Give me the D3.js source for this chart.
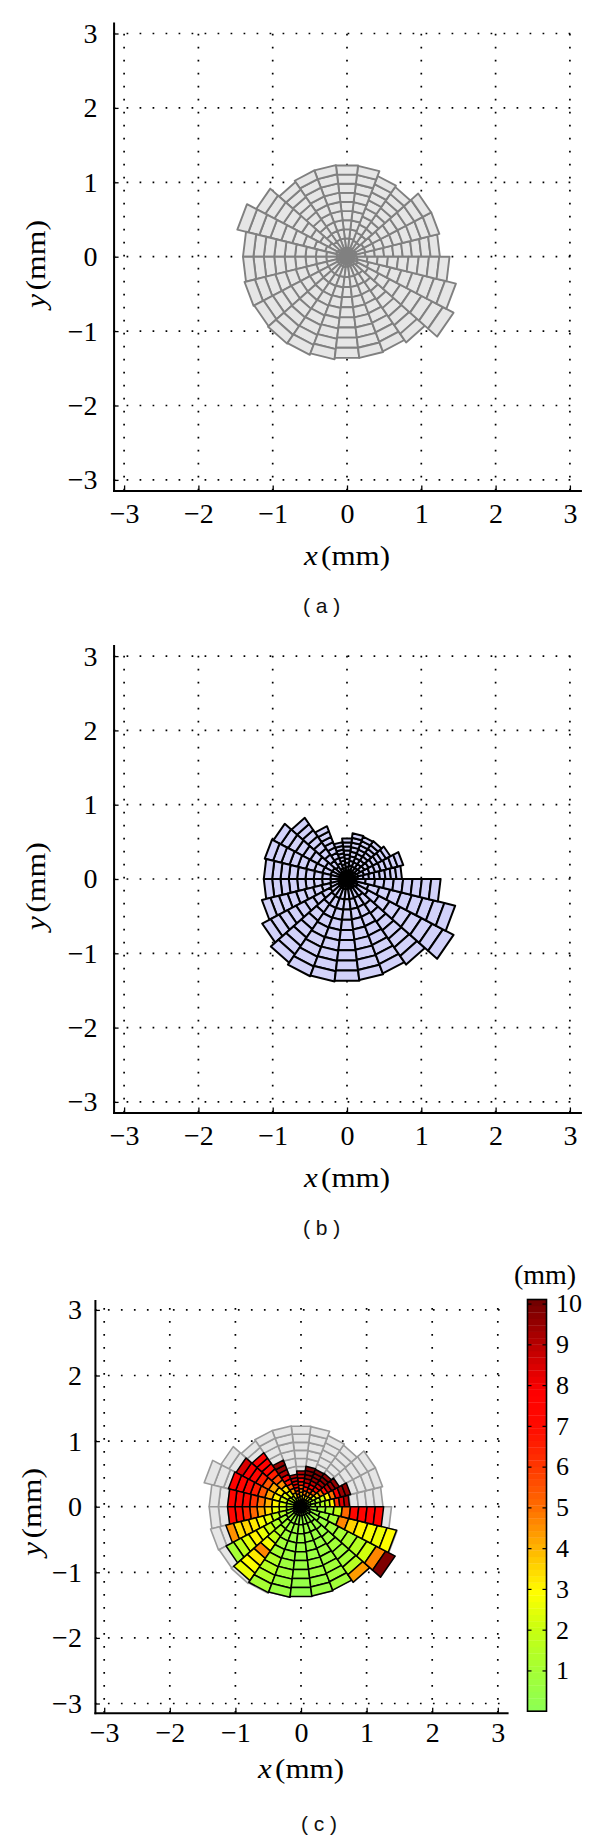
<!DOCTYPE html>
<html><head><meta charset="utf-8">
<script src="https://cdn.jsdelivr.net/npm/d3@7"></script>
<style>body{margin:0;background:#fff}</style>
</head><body>
<svg id="chart" width="600" height="1837" xmlns="http://www.w3.org/2000/svg"></svg>
<script>
// ---------------- DATA ----------------
const NSECT = 26;          // angular sectors (counter-clockwise from +x axis)
const NRING = 10;          // radial cells per sector
const axisTicks = [-3, -2, -1, 0, 1, 2, 3];
const cbTicks = [1, 2, 3, 4, 5, 6, 7, 8, 9, 10];
const cbMax = 10.1;
const panelCaptions = ["( a )", "( b )", "( c )"];

// outer radius (mm) of each sector, panel (a)
const radiusA = [1.25, 1.28, 1.28, 1.14, 1.16, 1.23, 1.235, 1.24, 1.24, 1.22, 1.38, 1.52, 1.40,
                 1.40, 1.42, 1.41, 1.42, 1.41, 1.39, 1.37, 1.37, 1.36, 1.40, 1.62, 1.51, 1.38];
// outer radius (mm) of each sector, panel (b)
const radiusB = [0.74, 0.78, 0.66, 0.62, 0.61, 0.62, 0.55, 0.50, 0.76, 1.00, 1.12, 1.14, 1.12,
                 1.12, 1.18, 1.29, 1.37, 1.40, 1.39, 1.38, 1.37, 1.36, 1.40, 1.62, 1.50, 1.26];
// cell values (mm) for panel (c), one list per sector, inner -> outer
const valuesC = [
  [0.5,0.6,0.8,1.0,1.3,1.8,3.0,6.0,8.5,9.0],
  [0.6,0.8,1.0,1.4,2.0,3.0,5.0,8.0,9.4,9.6],
  [0.8,1.2,1.8,2.5,3.5,5.0,7.0,8.8,9.4,9.5],
  [1.0,1.8,2.8,4.0,5.5,7.0,8.5,9.2,9.5,9.6],
  [1.2,2.0,3.0,4.5,6.0,7.5,8.8,9.4,9.7,9.8],
  [1.5,2.5,3.5,5.0,6.5,8.0,9.0,9.5,9.8,9.8],
  [1.5,2.5,3.0,3.5,4.5,5.5,6.5,7.5,8.5,9.0],
  [1.5,2.5,3.5,4.5,5.5,6.5,7.5,8.3,8.8,9.0],
  [1.2,2.0,3.0,4.2,5.5,6.8,8.0,9.0,9.5,9.6],
  [1.0,1.6,2.4,3.3,4.5,5.6,6.6,7.3,7.6,7.7],
  [1.0,1.6,2.4,3.2,4.2,5.4,6.5,7.4,7.8,8.5],
  [1.0,1.5,2.2,3.0,4.2,5.5,6.6,7.2,7.5,7.6],
  [1.0,1.5,2.2,3.0,4.0,5.0,6.0,7.0,7.4,7.5],
  [0.8,1.2,1.8,2.6,3.4,4.2,5.2,6.4,7.0,7.3],
  [0.7,0.9,1.3,1.8,2.4,2.8,3.2,3.6,3.4,4.5],
  [0.6,0.8,1.0,1.4,2.0,2.6,3.0,2.4,1.6,1.1],
  [0.6,0.8,1.0,1.3,1.8,2.8,4.6,3.2,2.9,2.6],
  [0.5,0.6,0.7,0.8,0.9,1.1,1.3,1.5,1.4,1.1],
  [0.4,0.5,0.5,0.6,0.6,0.7,0.7,0.8,0.7,0.5],
  [0.4,0.4,0.5,0.5,0.5,0.6,0.6,0.5,0.4,0.3],
  [0.4,0.4,0.5,0.5,0.6,0.6,0.7,0.7,0.6,0.5],
  [0.4,0.5,0.5,0.6,0.6,0.7,0.7,0.8,0.9,0.9],
  [0.4,0.4,0.5,0.6,0.7,0.8,0.9,1.1,1.5,4.3],
  [0.4,0.5,0.6,0.8,1.0,1.2,1.5,2.2,4.6,9.8],
  [0.4,0.5,0.7,1.1,4.6,3.6,3.0,2.8,2.6,2.9],
  [0.5,0.6,0.8,1.1,1.8,5.2,7.3,7.5,7.6,7.4]
];
// colormap stops (value -> colour)
const cmapStops  = [0, 1, 2, 2.9, 4, 5, 6, 7, 7.8, 8.5, 9.2, 10.1];
const cmapColors = ['#8cff55','#a5ff35','#c8ff10','#ffff00','#ffb400','#ff6e00',
                    '#ff3700','#ff0a00','#ff0000','#d80000','#aa0000','#6e0000'];

// ---------------- LAYOUT ----------------
const svg = d3.select('#chart');
const SERIF = "'Liberation Serif','Times New Roman',serif";
const SANS = "'Liberation Sans',Arial,sans-serif";
const NBANDS = 64;
const cmap = d3.scaleLinear().domain(cmapStops).range(cmapColors).interpolate(d3.interpolateRgb);
function colorOf(v) {
  const b = Math.max(0, Math.min(NBANDS - 1, Math.floor(v / cbMax * NBANDS)));
  return cmap((b + 0.5) * cbMax / NBANDS);
}
const intFmt = d3.format('d');

const panels = [
  {x0: 347, y0: 256.7, sx: 74.3, sy: 74.4, padB: 13, padL: 16, xlabY: 565, capY: 613, capX: 321.7, ylabX: 45, ylabY: 264},
  {x0: 347, y0: 879.0, sx: 74.3, sy: 74.3, padB: 13, padL: 16, xlabY: 1187.3, capY: 1235.3, capX: 321.7, ylabX: 45, ylabY: 886.3},
  {x0: 301, y0: 1506.7, sx: 65.6, sy: 65.6, padB: 9, padL: 13, xlabY: 1778, capY: 1831, capX: 319, ylabX: 41, ylabY: 1512}
];

function cellsFor(radii, vals) {
  const w = 2 * Math.PI / NSECT;
  const out = [];
  radii.forEach((R, k) => {
    for (let i = 0; i < NRING; i++) {
      out.push({k, i, a1: k * w, a2: (k + 1) * w, r0: R * i / NRING, r1: R * (i + 1) / NRING,
                v: vals ? vals[k][i] : null});
    }
  });
  return out;
}

function drawPanel(p, idx) {
  const g = svg.append('g');
  const x = d3.scaleLinear().domain([-Math.PI, Math.PI]).range([p.x0 - Math.PI * p.sx, p.x0 + Math.PI * p.sx]);
  const y = d3.scaleLinear().domain([-Math.PI, Math.PI]).range([p.y0 + Math.PI * p.sy, p.y0 - Math.PI * p.sy]);

  // dotted grid
  const grid = g.append('g').attr('stroke', '#000').attr('stroke-width', 1.7)
    .attr('stroke-dasharray', '1.7 11.3').attr('fill', 'none');
  grid.selectAll('.gv').data(axisTicks).join('line')
    .attr('x1', d => x(d)).attr('x2', d => x(d)).attr('y1', y(-Math.PI)).attr('y2', y(Math.PI));
  grid.selectAll('.gh').data(axisTicks).join('line')
    .attr('y1', d => y(d)).attr('y2', d => y(d)).attr('x1', x(-Math.PI)).attr('x2', x(Math.PI));

  const poly = c => [[c.r0, c.a1], [c.r1, c.a1], [c.r1, c.a2], [c.r0, c.a2]]
    .map(([r, a]) => [x(r * Math.cos(a)), y(r * Math.sin(a))].join(',')).join(' ');

  if (idx === 0) {
    g.append('g').selectAll('polygon').data(cellsFor(radiusA)).join('polygon')
      .attr('points', poly).attr('fill', '#e6e6e6').attr('stroke', '#808080')
      .attr('stroke-width', 1.9).attr('stroke-linejoin', 'round');
  } else if (idx === 1) {
    g.append('g').selectAll('polygon').data(cellsFor(radiusB)).join('polygon')
      .attr('points', poly).attr('fill', '#d2d2fa').attr('stroke', '#000')
      .attr('stroke-width', 2).attr('stroke-linejoin', 'round');
  } else {
    g.append('g').selectAll('polygon').data(cellsFor(radiusA)).join('polygon')
      .attr('points', poly).attr('fill', '#e6e6e6').attr('stroke', '#9a9a9a')
      .attr('stroke-width', 1.6).attr('stroke-linejoin', 'round');
    g.append('g').selectAll('polygon').data(cellsFor(radiusB, valuesC)).join('polygon')
      .attr('points', poly).attr('fill', d => colorOf(d.v)).attr('stroke', '#000')
      .attr('stroke-width', 1.5).attr('stroke-linejoin', 'round');
  }

  // axes
  const xAxis = d3.axisBottom(x).tickValues(axisTicks).tickFormat(intFmt)
    .tickSizeInner(-5).tickSizeOuter(0).tickPadding(p.padB);
  const yAxis = d3.axisLeft(y).tickValues(axisTicks).tickFormat(intFmt)
    .tickSizeInner(-5).tickSizeOuter(0).tickPadding(p.padL);
  const gx = g.append('g').attr('transform', `translate(0,${y(-Math.PI)})`).call(xAxis);
  const gy = g.append('g').attr('transform', `translate(${x(-Math.PI)},0)`).call(yAxis);
  [gx, gy].forEach(a => {
    a.attr('font-family', SERIF).attr('font-size', 28);
    a.select('.domain').attr('stroke', '#000').attr('stroke-width', 2).attr('stroke-linecap', 'square');
    a.selectAll('.tick line').attr('stroke', '#000').attr('stroke-width', 1.3);
    a.selectAll('.tick text').attr('font-family', SERIF).attr('font-size', 28).attr('fill', '#000');
  });

  // axis labels
  const xl = g.append('text').attr('x', p.x0).attr('y', p.xlabY).attr('text-anchor', 'middle')
    .attr('font-family', SERIF).attr('font-size', 28).attr('fill', '#000')
    .attr('textLength', 86).attr('lengthAdjust', 'spacingAndGlyphs');
  xl.append('tspan').attr('font-style', 'italic').text('x');
  xl.append('tspan').attr('dx', 3).text('(mm)');
  const yl = g.append('text').attr('transform', `translate(${p.ylabX},${p.ylabY}) rotate(-90)`)
    .attr('text-anchor', 'middle').attr('font-family', SERIF).attr('font-size', 28).attr('fill', '#000')
    .attr('textLength', 88).attr('lengthAdjust', 'spacingAndGlyphs');
  yl.append('tspan').attr('font-style', 'italic').text('y');
  yl.append('tspan').attr('dx', 3).text('(mm)');

  // caption
  g.append('text').attr('x', p.capX).attr('y', p.capY).attr('text-anchor', 'middle')
    .attr('font-family', SANS).attr('font-size', 21).attr('fill', '#111')
    .style('white-space', 'pre').text(panelCaptions[idx]);
}

panels.forEach(drawPanel);

// ---------------- COLORBAR ----------------
const cbX0 = 527.5, cbX1 = 546.5;
const cb = d3.scaleLinear().domain([0, cbMax]).range([1711.2, 1299.5]);
const cbg = svg.append('g');
cbg.selectAll('rect').data(d3.range(NBANDS)).join('rect')
  .attr('x', cbX0).attr('width', cbX1 - cbX0)
  .attr('y', b => cb((b + 1) * cbMax / NBANDS))
  .attr('height', b => cb(b * cbMax / NBANDS) - cb((b + 1) * cbMax / NBANDS) + 0.3)
  .attr('fill', b => cmap((b + 0.5) * cbMax / NBANDS));
const cbR = cbg.append('g').attr('transform', `translate(${cbX1},0)`)
  .call(d3.axisRight(cb).tickValues(cbTicks).tickSizeInner(-4).tickSizeOuter(0).tickPadding(9.5).tickFormat(intFmt));
const cbL = cbg.append('g').attr('transform', `translate(${cbX0},0)`)
  .call(d3.axisLeft(cb).tickValues(cbTicks).tickSizeInner(-4).tickSizeOuter(0).tickFormat(''));
[cbR, cbL].forEach(a => {
  a.attr('font-family', SERIF).attr('font-size', 26);
  a.select('.domain').remove();
  a.selectAll('.tick line').attr('stroke', '#000').attr('stroke-width', 1.2);
  a.selectAll('.tick text').attr('font-family', SERIF).attr('font-size', 26).attr('fill', '#000');
});
cbg.append('rect').attr('x', cbX0).attr('y', cb(cbMax)).attr('width', cbX1 - cbX0)
  .attr('height', cb(0) - cb(cbMax)).attr('fill', 'none').attr('stroke', '#000').attr('stroke-width', 1.6);
cbg.append('text').attr('x', 545).attr('y', 1284).attr('text-anchor', 'middle')
  .attr('font-family', SERIF).attr('font-size', 28).attr('fill', '#000').text('(mm)');
</script>
</body></html>
